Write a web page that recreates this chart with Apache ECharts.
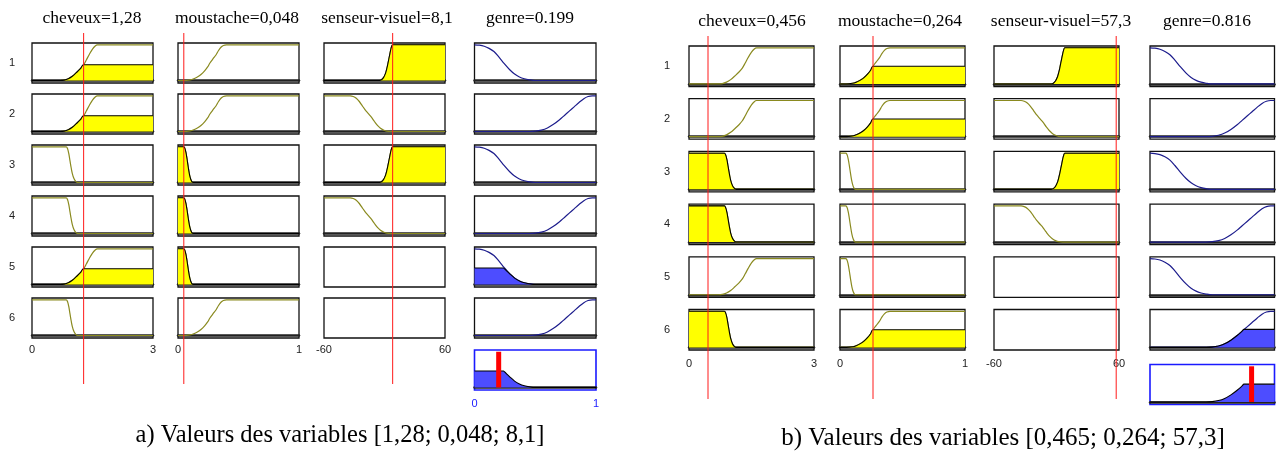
<!DOCTYPE html>
<html><head><meta charset="utf-8">
<script src="https://cdn.jsdelivr.net/npm/echarts@6/dist/echarts.min.js"></script>
<style>html,body{margin:0;padding:0;background:#fff}#c{width:1277px;height:452px}</style>
</head><body><div id="c"></div><script>
// ================= DATA =================
const ranges = [[0, 3], [0, 1], [-60, 60], [0, 1]];
const rowLabels = ['1', '2', '3', '4', '5', '6'];
const titresA = ['cheveux=1,28', 'moustache=0,048', 'senseur-visuel=8,1', 'genre=0.199'];
const titresB = ['cheveux=0,456', 'moustache=0,264', 'senseur-visuel=57,3', 'genre=0.816'];
const legendeA = 'a) Valeurs des variables [1,28; 0,048; 8,1]';
const legendeB = 'b) Valeurs des variables [0,465; 0,264; 57,3]';
const entreesA = [1.28, 0.048, 8.1];
const entreesB = [0.456, 0.264, 57.3];
const sortieA = 0.199;
const sortieB = 0.816;

// membership functions
const cheveuxLong = [[0,0],[0.7,0],[0.8,0.01],[0.9,0.05],[1.0,0.12],[1.1,0.22],[1.2,0.33],[1.28,0.44],[1.35,0.58],[1.42,0.73],[1.5,0.88],[1.56,0.96],[1.62,1],[3,1]];
const cheveuxCourt = [[0,1],[0.85,1],[0.88,0.95],[0.91,0.82],[0.94,0.62],[0.97,0.42],[1.0,0.25],[1.04,0.11],[1.08,0.04],[1.13,0],[3,0]];
const moustacheOui = [[0,0],[0.05,0],[0.1,0.02],[0.13,0.05],[0.16,0.1],[0.19,0.17],[0.22,0.27],[0.245,0.38],[0.264,0.49],[0.29,0.61],[0.315,0.72],[0.335,0.84],[0.355,0.93],[0.375,0.98],[0.4,1],[1,1]];
const moustacheNon = [[0,1],[0.045,1],[0.055,0.97],[0.065,0.85],[0.075,0.65],[0.085,0.42],[0.095,0.22],[0.105,0.09],[0.115,0.02],[0.125,0],[1,0]];
const senseurHaut = [[-60,0],[-5,0],[-3,0.02],[-1,0.08],[1,0.2],[2,0.3],[3,0.42],[4,0.56],[5,0.7],[6,0.84],[7,0.95],[8,1],[60,1]];
const senseurBas = [[-60,1],[-34,1],[-31,0.98],[-28,0.93],[-25,0.84],[-22,0.72],[-19,0.6],[-16,0.5],[-13,0.4],[-10,0.28],[-7,0.17],[-4,0.09],[-1,0.04],[2,0.01],[6,0],[60,0]];
const genreFemme = [[0,1],[0.04,0.99],[0.08,0.96],[0.12,0.9],[0.16,0.81],[0.2,0.66],[0.245,0.47],[0.29,0.3],[0.33,0.18],[0.37,0.1],[0.41,0.05],[0.45,0.02],[0.5,0],[1,0]];
const genreHomme = [[0,0],[0.45,0],[0.5,0.01],[0.55,0.04],[0.6,0.1],[0.65,0.2],[0.7,0.33],[0.74,0.45],[0.78,0.57],[0.82,0.69],[0.86,0.81],[0.9,0.92],[0.935,0.98],[0.97,1],[1,1]];

// truncated (fired) shapes
const cheveuxLongA = [[0,0],[0.7,0],[0.8,0.01],[0.9,0.05],[1.0,0.12],[1.1,0.22],[1.2,0.33],[1.28,0.44],[3,0.44]];
const moustacheOuiB = [[0,0],[0.05,0],[0.1,0.02],[0.13,0.05],[0.16,0.1],[0.19,0.17],[0.22,0.27],[0.245,0.38],[0.264,0.49],[1,0.49]];
const genreFemmeA = [[0,0.46],[0.24,0.46],[0.245,0.45],[0.29,0.3],[0.33,0.18],[0.37,0.1],[0.41,0.05],[0.45,0.02],[0.5,0],[1,0]];
const genreHommeB = [[0,0],[0.45,0],[0.5,0.01],[0.55,0.04],[0.6,0.1],[0.65,0.2],[0.7,0.33],[0.74,0.45],[0.755,0.5],[1,0.5]];

// rules: term used by each of the 6 rules, per variable
const reglesCheveux = [cheveuxLong, cheveuxLong, cheveuxCourt, cheveuxCourt, cheveuxLong, cheveuxCourt];
const reglesMoustache = [moustacheOui, moustacheOui, moustacheNon, moustacheNon, moustacheNon, moustacheOui];
const reglesSenseur = [senseurHaut, senseurBas, senseurHaut, senseurBas, null, null];
const reglesGenre = [genreFemme, genreHomme, genreFemme, genreHomme, genreFemme, genreHomme];

// fired parts per rule
const remplisA = [
  [cheveuxLongA, cheveuxLongA, null, null, cheveuxLongA, null],
  [null, null, moustacheNon, moustacheNon, moustacheNon, null],
  [senseurHaut, null, senseurHaut, null, null, null],
  [null, null, null, null, genreFemmeA, null]
];
const remplisB = [
  [null, null, cheveuxCourt, cheveuxCourt, null, cheveuxCourt],
  [moustacheOuiB, moustacheOuiB, null, null, null, moustacheOuiB],
  [senseurHaut, null, senseurHaut, null, null, null],
  [null, null, null, null, null, genreHommeB]
];
const agregatA = genreFemmeA;
const agregatB = genreHommeB;

// ================= LAYOUT =================
const reglesAll = [reglesCheveux, reglesMoustache, reglesSenseur, reglesGenre];
const panels = [
  { cols: [32, 178, 324, 474.5], widths: [121, 121, 121, 121.5], tops: [43, 94, 145, 196, 247, 298], h: 40,
    aggTop: 350, aggH: 40, redTop: 33, redBot: 384, margin: 6, aggMargin: 8, aggLabels: true,
    titles: titresA, titleX: [92, 237, 387, 530], titleY: 18, rowX: 12,
    caption: legendeA, capX: 340, capY: 436, capSize: 24.5,
    entrees: entreesA, sortie: sortieA, remplis: remplisA, agregat: agregatA },
  { cols: [689, 840, 994, 1150], widths: [125, 125, 125, 124.5], tops: [46, 98.7, 151.4, 204.1, 256.8, 309.5], h: 40.5,
    aggTop: 364.5, aggH: 40, redTop: 36, redBot: 399, margin: 8.5, aggMargin: 8, aggLabels: false,
    titles: titresB, titleX: [752, 900, 1061, 1207], titleY: 21, rowX: 667,
    caption: legendeB, capX: 1003, capY: 438, capSize: 25,
    entrees: entreesB, sortie: sortieB, remplis: remplisB, agregat: agregatB }
];

const OLIVE = '#8a8a1f', NAVY = '#1c1c8c', YELLOW = '#ffff00', BLUE = '#4d4dff';
const grids = [], xAxes = [], yAxes = [], series = [], graphics = [];
const SMOOTH = 0.35;

function addGrid(left, top, width, height, xr, o) {
  const i = grids.length;
  grids.push({ left, top, width, height, show: !!o.border, borderColor: o.border || '#000',
    borderWidth: o.bw || 1.3, backgroundColor: 'transparent', containLabel: false });
  xAxes.push({ type: 'value', gridIndex: i, min: xr[0], max: xr[1], interval: xr[1] - xr[0],
    axisLine: { show: !!o.base, onZero: true, lineStyle: { color: '#222', width: 2.5 } },
    axisTick: { show: false }, splitLine: { show: false },
    axisLabel: { show: !!o.labels, margin: o.margin || 6, fontSize: 11, color: o.labelColor || '#222',
      fontFamily: 'Liberation Sans', showMinLabel: true, showMaxLabel: true, hideOverlap: false } });
  yAxes.push({ type: 'value', gridIndex: i, min: o.ymin !== undefined ? o.ymin : -0.07, max: o.ymax !== undefined ? o.ymax : 1.05, show: false });
  return i;
}
function curve(i, data, color, z) {
  series.push({ type: 'line', xAxisIndex: i, yAxisIndex: i, data, smooth: SMOOTH,
    symbol: 'none', silent: true, z: z || 2, lineStyle: { color, width: 1.2 } });
}
function filled(i, data, fill, z) {
  series.push({ type: 'line', xAxisIndex: i, yAxisIndex: i, data, smooth: SMOOTH,
    symbol: 'none', silent: true, z: z || 3, lineStyle: { color: '#000', width: 1.1 },
    areaStyle: { color: fill, opacity: 1 } });
}
function vline(i, v, color, width, y0, y1) {
  series.push({ type: 'line', xAxisIndex: i, yAxisIndex: i, data: [[v, y0], [v, y1]], symbol: 'none',
    silent: true, z: 10, lineStyle: { color, width } });
}

panels.forEach(p => {
  for (let c = 0; c < 4; c++) {
    for (let r = 0; r < 6; r++) {
      const mf = reglesAll[c][r];
      const last = (r === 5 && c < 3);
      const gi = addGrid(p.cols[c], p.tops[r], p.widths[c], p.h, ranges[c],
        { border: '#111', base: !!mf, labels: last, margin: p.margin });
      if (mf) curve(gi, mf, c === 3 ? NAVY : OLIVE);
      const f = p.remplis[c][r];
      if (f) filled(gi, f, c === 3 ? BLUE : YELLOW);
    }
    if (c < 3) {
      const ri = addGrid(p.cols[c], p.redTop, p.widths[c], p.redBot - p.redTop, ranges[c], { ymin: 0, ymax: 1 });
      vline(ri, p.entrees[c], '#ff1a1a', 1, 0, 1);
    }
  }
  // aggregated output
  const ai = addGrid(p.cols[3], p.aggTop, p.widths[3], p.aggH, ranges[3],
    { border: '#1a1aff', bw: 1.6, base: true, labels: p.aggLabels, margin: p.aggMargin, labelColor: '#1a1aff' });
  filled(ai, p.agregat, BLUE);
  vline(ai, p.sortie, '#ff0000', 5, 0, 1);

  // texts
  p.titles.forEach((t, k) => graphics.push({ type: 'text', x: p.titleX[k], y: p.titleY,
    style: { text: t, fill: '#000', font: '17.5px "Liberation Serif"', align: 'center', verticalAlign: 'middle' } }));
  rowLabels.forEach((t, r) => graphics.push({ type: 'text', x: p.rowX, y: p.tops[r] + p.h / 2,
    style: { text: t, fill: '#222', font: '11px "Liberation Sans"', align: 'center', verticalAlign: 'middle' } }));
  graphics.push({ type: 'text', x: p.capX, y: p.capY,
    style: { text: p.caption, fill: '#000', font: p.capSize + 'px "Liberation Serif"', align: 'center', verticalAlign: 'middle' } });
});

const chart = echarts.init(document.getElementById('c'), null, { renderer: 'canvas' });
chart.setOption({ animation: false, backgroundColor: '#fff', grid: grids, xAxis: xAxes, yAxis: yAxes, series, graphic: graphics });
</script></body></html>
